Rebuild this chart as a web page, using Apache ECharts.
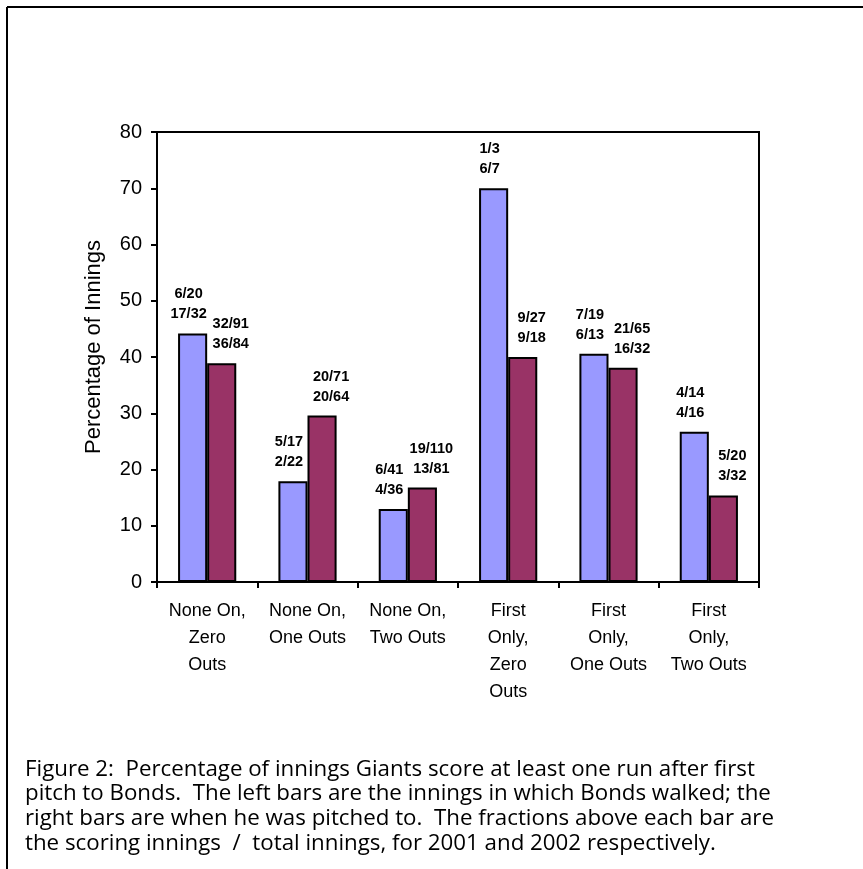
<!DOCTYPE html>
<html>
<head>
<meta charset="utf-8">
<script src="https://cdn.jsdelivr.net/npm/echarts@6/dist/echarts.min.js"></script>
<style>
html,body{margin:0;padding:0;background:#fff;}
#c{width:863px;height:869px;}
</style>
</head>
<body>
<div id="c"></div>
<script>
const categories = [
  "None On,\nZero\nOuts",
  "None On,\nOne Outs",
  "None On,\nTwo Outs",
  "First\nOnly,\nZero\nOuts",
  "First\nOnly,\nOne Outs",
  "First\nOnly,\nTwo Outs"
];
// Percentage of innings with at least one run (left bars: Bonds walked; right bars: pitched to)
const walkedPct  = [44.2, 17.9, 13.0, 70.0, 40.6, 26.7];
const pitchedPct = [38.9, 29.6, 16.8, 40.0, 38.1, 15.4];
// Fractions shown above each bar: 2001 / 2002
const walked2001  = ["6/20", "5/17", "6/41", "1/3", "7/19", "4/14"];
const walked2002  = ["17/32", "2/22", "4/36", "6/7", "6/13", "4/16"];
const pitched2001 = ["32/91", "20/71", "19/110", "9/27", "21/65", "5/20"];
const pitched2002 = ["36/84", "20/64", "13/81", "9/18", "16/32", "3/32"];
const yTicks = [0, 10, 20, 30, 40, 50, 60, 70, 80];

const captionLines = [
  "Figure 2:  Percentage of innings Giants score at least one run after first",
  "pitch to Bonds.  The left bars are the innings in which Bonds walked; the",
  "right bars are when he was pitched to.  The fractions above each bar are",
  "the scoring innings  /  total innings, for 2001 and 2002 respectively."
];

const chart = echarts.init(document.getElementById('c'), null, {renderer: 'canvas'});
const FONT = '"Liberation Sans", Arial, sans-serif';

function labelFor(top, bottom, dx) {
  return {
    show: true,
    position: 'top',
    distance: 9,
    offset: [dx, 0],
    fontFamily: FONT,
    fontSize: 14.5,
    fontWeight: 'bold',
    color: '#000',
    lineHeight: 20,
    formatter: p => top[p.dataIndex] + '\n' + bottom[p.dataIndex]
  };
}

const option = {
  backgroundColor: '#fff',
  animation: false,
  grid: {
    left: 157, top: 132, right: 104, bottom: 287,
    show: true, borderColor: '#000', borderWidth: 2, backgroundColor: 'transparent'
  },
  xAxis: {
    type: 'category',
    data: categories,
    axisLine: {lineStyle: {color: '#000', width: 2}},
    axisTick: {show: true, length: 6, lineStyle: {color: '#000', width: 2}},
    axisLabel: {
      interval: 0, margin: 16, fontFamily: FONT, fontSize: 18, color: '#000',
      lineHeight: 27, align: 'center'
    }
  },
  yAxis: {
    type: 'value',
    min: yTicks[0], max: yTicks[yTicks.length - 1], interval: 10,
    name: 'Percentage of Innings',
    nameLocation: 'middle',
    nameGap: 52,
    nameRotate: 90,
    nameTextStyle: {fontFamily: FONT, fontSize: 22, color: '#000', padding: [0, 0, 0, 20]},
    axisLine: {show: true, lineStyle: {color: '#000', width: 2}},
    axisTick: {show: true, length: 6, lineStyle: {color: '#000', width: 2}},
    axisLabel: {fontFamily: FONT, fontSize: 20, color: '#000', margin: 15},
    splitLine: {show: false}
  },
  series: [
    {
      type: 'bar',
      data: walkedPct,
      barWidth: '29%',
      barGap: '0%',
      itemStyle: {color: '#9999FF', borderColor: '#000', borderWidth: 2},
      label: labelFor(walked2001, walked2002, -4)
    },
    {
      type: 'bar',
      data: pitchedPct,
      barWidth: '29%',
      barGap: '0%',
      itemStyle: {color: '#993366', borderColor: '#000', borderWidth: 2},
      label: labelFor(pitched2001, pitched2002, 9)
    }
  ],
  graphic: [
    {type: 'line', shape: {x1: 7, y1: 7, x2: 7, y2: 869}, style: {stroke: '#000', lineWidth: 2}},
    {type: 'line', shape: {x1: 7, y1: 7, x2: 863, y2: 7}, style: {stroke: '#000', lineWidth: 2}},
    {
      type: 'text', left: 25, top: 757,
      style: {
        text: captionLines.join('\n'),
        font: '22.3px "Open Sans", "Noto Sans", sans-serif',
        fill: '#000',
        lineHeight: 24.7
      }
    }
  ]
};
chart.setOption(option);
</script>
</body>
</html>
